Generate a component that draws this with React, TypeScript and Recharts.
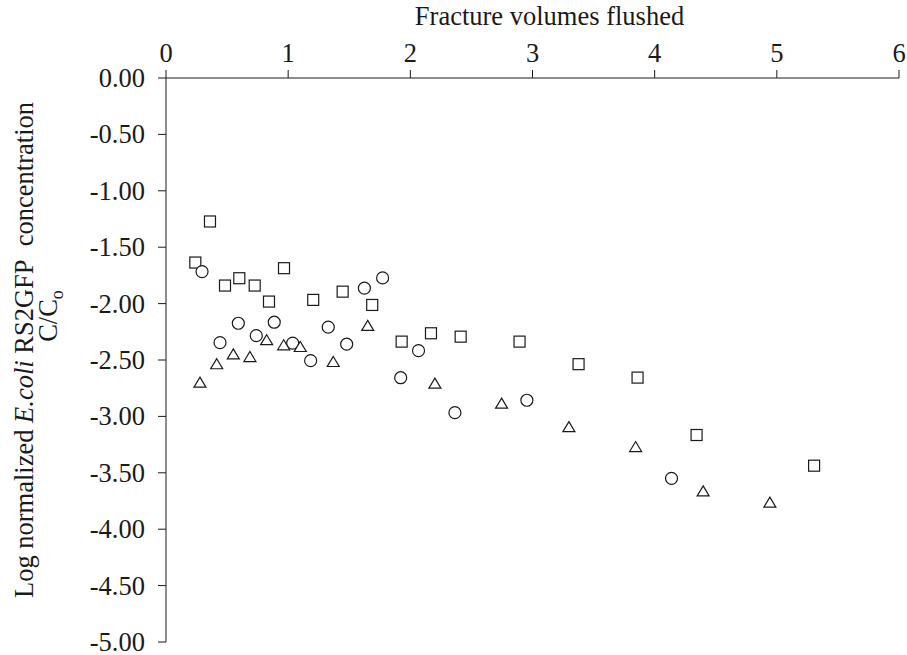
import React from 'react';
import { ScatterChart, Scatter, XAxis, YAxis } from 'recharts';

// Fracture volumes flushed (x) and log C/Co (y) for each run
const squareVolumes = [0.24, 0.36, 0.483, 0.6, 0.726, 0.843, 0.966, 1.205, 1.446, 1.688, 1.929, 2.169, 2.412, 2.894, 3.377, 3.86, 4.343, 5.305];
const squareLogConc = [-1.636, -1.272, -1.84, -1.775, -1.84, -1.982, -1.686, -1.967, -1.894, -2.012, -2.337, -2.263, -2.293, -2.337, -2.537, -2.656, -3.165, -3.437];

const circleVolumes = [0.295, 0.442, 0.592, 0.739, 0.886, 1.037, 1.184, 1.328, 1.479, 1.624, 1.773, 1.921, 2.067, 2.365, 2.954, 4.138];
const circleLogConc = [-1.716, -2.346, -2.174, -2.284, -2.165, -2.351, -2.506, -2.209, -2.36, -1.863, -1.772, -2.657, -2.417, -2.967, -2.857, -3.549];

const triangleVolumes = [0.278, 0.415, 0.551, 0.687, 0.824, 0.963, 1.099, 1.369, 1.651, 2.201, 2.747, 3.298, 3.844, 4.397, 4.943];
const triangleLogConc = [-2.711, -2.548, -2.46, -2.484, -2.335, -2.38, -2.395, -2.528, -2.208, -2.72, -2.897, -3.105, -3.282, -3.675, -3.775];

const xTicks = [0, 1, 2, 3, 4, 5, 6];
const yTicks = [0, -0.5, -1, -1.5, -2, -2.5, -3, -3.5, -4, -4.5, -5];

const toPoints = (xs: number[], ys: number[]) => xs.map((x, i) => ({ x, y: ys[i] }));

const FONT = '"Liberation Serif", "Times New Roman", serif';
const FONT_SIZE = 26.5;
const INK = '#1a1a1a';

const SquareMark = (props: any) => {
  const { cx, cy } = props;
  return <rect x={cx - 5.5} y={cy - 5.5} width={11} height={11} fill="#fff" stroke={INK} strokeWidth={1.2} />;
};

const CircleMark = (props: any) => {
  const { cx, cy } = props;
  return <circle cx={cx} cy={cy} r={6} fill="#fff" stroke={INK} strokeWidth={1.2} />;
};

const TriangleMark = (props: any) => {
  const { cx, cy } = props;
  const w = 12;
  const h = 10;
  const d = `M${cx},${cy - (2 * h) / 3} L${cx + w / 2},${cy + h / 3} L${cx - w / 2},${cy + h / 3} Z`;
  return <path d={d} fill="#fff" stroke={INK} strokeWidth={1.2} />;
};

// tick labels drawn by hand so the serif face sticks
const XTick = (props: any) => {
  const { x, y, payload } = props;
  return (
    <text x={x} y={y} textAnchor="middle" style={{ fontFamily: FONT }} fontSize={FONT_SIZE} fill={INK}>
      {String(payload.value)}
    </text>
  );
};

const YTick = (props: any) => {
  const { x, y, payload } = props;
  return (
    <text x={x} y={y} dy="0.34em" textAnchor="end" style={{ fontFamily: FONT }} fontSize={FONT_SIZE} fill={INK}>
      {Number(payload.value).toFixed(2)}
    </text>
  );
};

const XTitle = (props: any) => {
  const { viewBox } = props;
  return (
    <text x={viewBox.x + viewBox.width / 2 + 17} y={25} textAnchor="middle" style={{ fontFamily: FONT }} fontSize={FONT_SIZE} fill={INK}>
      Fracture volumes flushed
    </text>
  );
};

const YTitle = () => (
  <g style={{ fontFamily: FONT }} fontSize={FONT_SIZE} fill={INK}>
    <text transform="translate(33,350) rotate(-90)" textAnchor="middle">
      Log normalized <tspan fontStyle="italic">E.coli</tspan> RS2GFP{'\u00a0 '}concentration
    </text>
    <text transform="translate(57,316) rotate(-90)" textAnchor="middle">
      C/C<tspan fontSize={18} dy={6}>o</tspan>
    </text>
  </g>
);

export default function App() {
  return (
    <div style={{ position: 'absolute', left: 0, top: 0, width: 907, height: 655, background: '#fff', fontFamily: FONT }}>
      <ScatterChart width={907} height={655} margin={{ top: 0, right: 8, bottom: 13, left: 0 }}>
        <XAxis
          type="number"
          dataKey="x"
          orientation="top"
          domain={[0, 6]}
          ticks={xTicks}
          height={78}
          tickSize={8}
          tickMargin={8}
          axisLine={{ stroke: INK }}
          tickLine={{ stroke: INK }}
          tick={<XTick />}
          label={<XTitle />}
        />
        <YAxis
          type="number"
          dataKey="y"
          domain={[-5, 0]}
          ticks={yTicks}
          width={166}
          tickSize={8}
          tickMargin={13}
          axisLine={{ stroke: INK }}
          tickLine={{ stroke: INK }}
          tick={<YTick />}
          label={<YTitle />}
        />
        <Scatter data={toPoints(squareVolumes, squareLogConc)} shape={SquareMark} isAnimationActive={false} />
        <Scatter data={toPoints(circleVolumes, circleLogConc)} shape={CircleMark} isAnimationActive={false} />
        <Scatter data={toPoints(triangleVolumes, triangleLogConc)} shape={TriangleMark} isAnimationActive={false} />
      </ScatterChart>
    </div>
  );
}
